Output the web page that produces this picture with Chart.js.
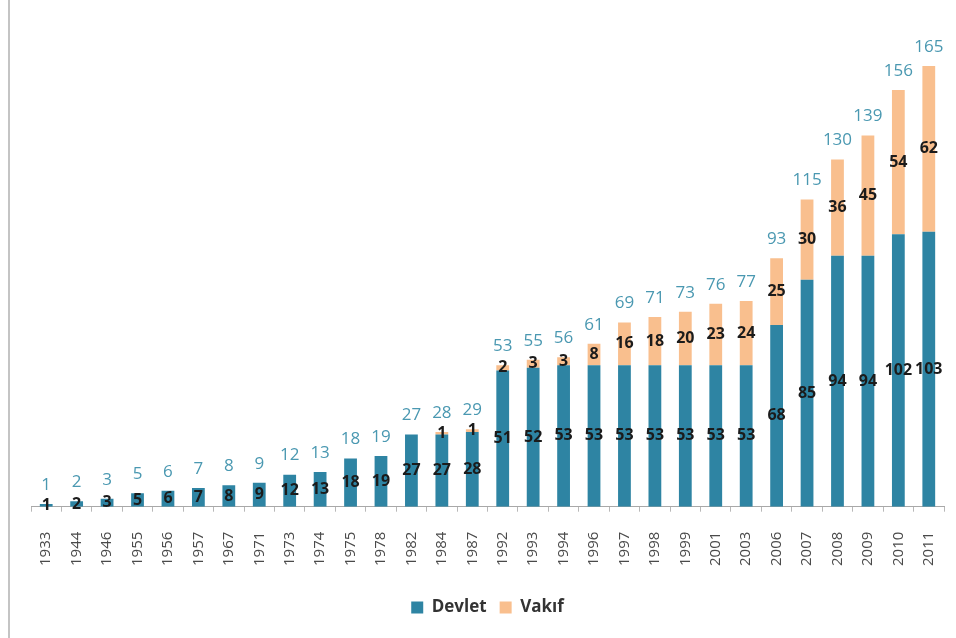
<!DOCTYPE html>
<html>
<head>
<meta charset="utf-8">
<script src="https://cdn.jsdelivr.net/npm/chart.js@4/dist/chart.umd.min.js"></script>
<style>
  html, body { margin: 0; padding: 0; background: #fff; }
  #wrap { position: relative; width: 956px; height: 638px; }
  #edge { position: absolute; left: 8px; top: 0; width: 2px; height: 638px; background: #c4c4c4; }
</style>
</head>
<body>
<div id="wrap">
  <div id="edge"></div>
  <canvas id="chart" width="956" height="638"></canvas>
</div>
<script>
// DATA
const years = ["1933","1944","1946","1955","1956","1957","1967","1971","1973","1974",
               "1975","1978","1982","1984","1987","1992","1993","1994","1996","1997",
               "1998","1999","2001","2003","2006","2007","2008","2009","2010","2011"];
const devlet = [1,2,3,5,6,7,8,9,12,13,18,19,27,27,28,51,52,53,53,53,53,53,53,53,68,85,94,94,102,103];
const vakif  = [0,0,0,0,0,0,0,0,0,0,0,0,0,1,1,2,3,3,8,16,18,20,23,24,25,30,36,45,54,62];

const FONT = "'Open Sans', 'DejaVu Sans', sans-serif";

// LABELS ON BARS + TOTALS ABOVE
const barLabels = {
    id: "barLabels",
    afterDatasetsDraw(chart) {
        const ctx = chart.ctx;
        ctx.save();
        ctx.textAlign = "center";
        ctx.textBaseline = "middle";

        ctx.font = "bold 16px " + FONT;
        ctx.fillStyle = "#1b1b1b";
        chart.data.datasets.forEach((ds, i) => {
            chart.getDatasetMeta(i).data.forEach((el, j) => {
                const v = ds.data[j];
                if (!v) return;
                ctx.fillText(v, el.x, (el.y + el.base) / 2);
            });
        });

        ctx.font = "17px " + FONT;
        ctx.fillStyle = "#4a98b1";
        const top = chart.getDatasetMeta(1).data;
        years.forEach((y, j) => {
            const total = devlet[j] + vakif[j];
            ctx.fillText(total, top[j].x, top[j].y - 19);
        });
        ctx.restore();
    }
};

new Chart(document.getElementById("chart"), {
    type: "bar",
    data: {
        labels: years,
        datasets: [
            { label: "Devlet", data: devlet, backgroundColor: "#2e84a3" },
            { label: "Vakıf", data: vakif, backgroundColor: "#f9bf8e" }
        ]
    },
    options: {
        responsive: false,
        animation: false,
        datasets: { bar: { categoryPercentage: 1, barPercentage: 0.42 } },
        layout: { padding: { left: 31, right: 12, top: 26, bottom: 12 } },
        plugins: {
            tooltip: { enabled: false },
            legend: {
                position: "bottom",
                labels: {
                    boxWidth: 12, boxHeight: 12, padding: 13,
                    color: "#333",
                    font: { family: FONT, size: 17, weight: "bold" }
                }
            }
        },
        scales: {
            x: {
                stacked: true,
                afterFit(scale) { scale.paddingLeft = 0; scale.paddingRight = 0; },
                border: { color: "#a8a8a8", width: 1 },
                grid: { drawOnChartArea: false, drawTicks: true, tickLength: 5, color: "#b8b8b8" },
                ticks: {
                    maxRotation: 90, minRotation: 90, padding: 20,
                    color: "#4a4a4a",
                    font: { family: FONT, size: 15 }
                }
            },
            y: {
                stacked: true, display: false, min: 0, max: 180
            }
        }
    },
    plugins: [barLabels]
});
</script>
</body>
</html>
